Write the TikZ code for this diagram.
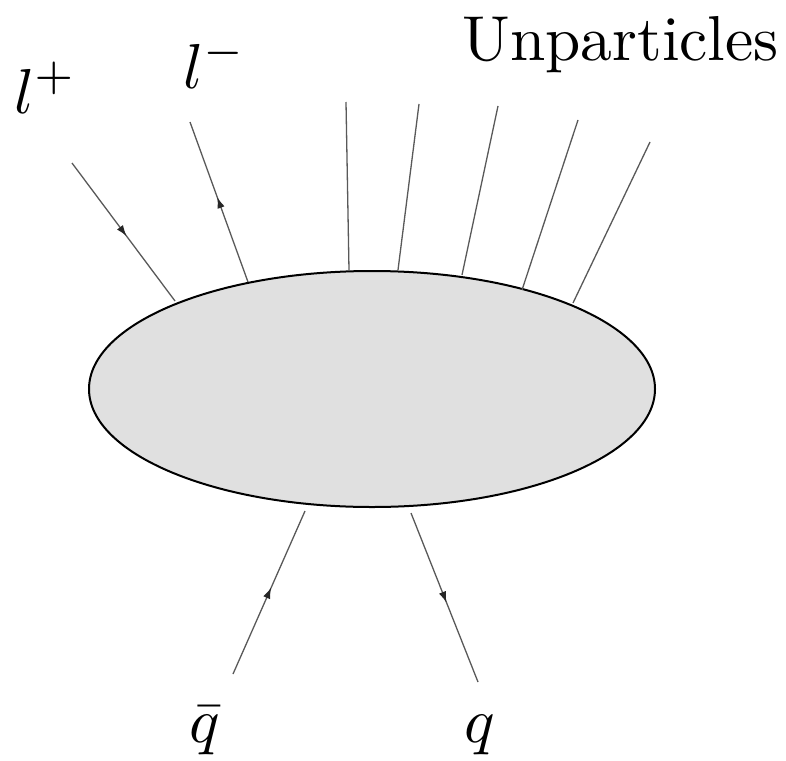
\documentclass[tikz,border=0pt]{standalone}
\usepackage{graphicx}
\usetikzlibrary{shapes.geometric,decorations.markings,arrows.meta}
\definecolor{blobfill}{HTML}{E0E0E0}
\definecolor{linegray}{HTML}{595959}
\newcommand{\bigtxt}[1]{\scalebox{6.35}{#1}}
\tikzset{
  leg/.style={draw=linegray, line width=1.3pt},
  arrowleg/.style={leg, postaction={decorate}, decoration={markings,
      mark=at position #1 with {\arrow[black!85]{Latex[length=11pt,width=7.5pt]}}}},
  lbl/.style={inner sep=0pt},
}
\begin{document}
\begin{tikzpicture}[x=1pt,y=-1pt]
\useasboundingbox (0,0) rectangle (786,760);
\node[ellipse, draw=black, line width=2pt, fill=blobfill, minimum width=566pt, minimum height=236pt, inner sep=0pt] (blob) at (372,389) {};
% coordinates
\coordinate (lpo) at (72,163);  \coordinate (lpi) at (175,301);
\coordinate (lmo) at (190,122); \coordinate (lmi) at (248,282);
\coordinate (u1o) at (346,102); \coordinate (u1i) at (349,270);
\coordinate (u2o) at (419,104); \coordinate (u2i) at (398,270);
\coordinate (u3o) at (498,106); \coordinate (u3i) at (462,275);
\coordinate (u4o) at (578,120); \coordinate (u4i) at (522,290);
\coordinate (u5o) at (650,142); \coordinate (u5i) at (573,303);
\coordinate (qbo) at (233,674); \coordinate (qbi) at (305,511);
\coordinate (qo) at (478,682);  \coordinate (qi) at (411,513);
% legs
\draw[arrowleg=0.53] (lpo) -- (lpi);
\draw[arrowleg=0.53] (lmi) -- (lmo);
\draw[leg] (u1o) -- (u1i);
\draw[leg] (u2o) -- (u2i);
\draw[leg] (u3o) -- (u3i);
\draw[leg] (u4o) -- (u4i);
\draw[leg] (u5o) -- (u5i);
\draw[arrowleg=0.53] (qbo) -- (qbi);
\draw[arrowleg=0.53] (qi) -- (qo);
% labels
\node[lbl, anchor=base west] (tlp) at (14,113) {\bigtxt{$l^+$}};
\node[lbl, anchor=base west] (tlm) at (183,88) {\bigtxt{$l^-$}};
\node[lbl, anchor=base east] (tun) at (779,60) {\bigtxt{Unparticles}};
\node[lbl, anchor=base west] (tqb) at (189,742) {\bigtxt{$\bar{q}$}};
\node[lbl, anchor=base west] (tq) at (464,742) {\bigtxt{$q$}};
\end{tikzpicture}
\end{document}
